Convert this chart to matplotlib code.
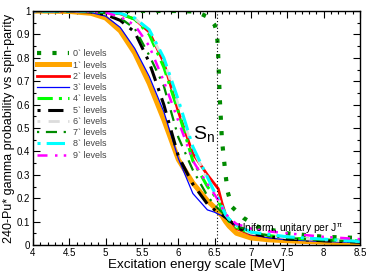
import matplotlib
matplotlib.use("Agg")
import matplotlib.pyplot as plt
from matplotlib.ticker import MultipleLocator, FuncFormatter

plt.rcParams['font.family'] = ['Liberation Sans', 'DejaVu Sans']
plt.rcParams['mathtext.fontset'] = 'custom'
plt.rcParams['mathtext.rm'] = 'Liberation Sans'
plt.rcParams['mathtext.it'] = 'Liberation Sans'

# ---- data ----
x_common = [4.0, 4.5, 4.8, 5.0, 5.2, 5.4, 5.6, 5.8, 6.0, 6.2, 6.4, 6.5, 6.55, 6.6, 6.65,
            6.7, 6.8, 7.0, 7.25, 7.5, 8.0, 8.5]

x_lev0 = [4.0, 5.0, 6.0, 6.2, 6.3, 6.4, 6.45, 6.5, 6.53, 6.545, 6.57, 6.6, 6.63, 6.65,
          6.68, 6.74, 6.9, 7.1, 7.5, 8.0, 8.5]
y_lev0 = [1.0, 1.0, 1.0, 0.998, 0.99, 0.975, 0.96, 0.94, 0.91, 0.84, 0.63, 0.45, 0.36,
          0.30, 0.226, 0.162, 0.115, 0.077, 0.05, 0.035, 0.03]

y_lev1 = [1.0, 0.998, 0.99, 0.97, 0.915, 0.82, 0.69, 0.535, 0.365, 0.265, 0.19, 0.16,
          0.142, 0.125, 0.1, 0.08, 0.05, 0.03, 0.022, 0.018, 0.012, 0.008]
y_lev2 = [1.0, 1.0, 0.999, 0.997, 0.988, 0.965, 0.91, 0.78, 0.57, 0.39, 0.30, 0.26,
          0.24, 0.18, 0.13, 0.11, 0.07, 0.045, 0.035, 0.028, 0.02, 0.015]
y_lev3 = [1.0, 0.998, 0.993, 0.978, 0.93, 0.84, 0.72, 0.57, 0.37, 0.22, 0.15, 0.14,
          0.132, 0.125, 0.115, 0.105, 0.08, 0.045, 0.03, 0.022, 0.015, 0.01]
y_lev4 = [1.0, 1.0, 0.999, 0.997, 0.988, 0.965, 0.90, 0.76, 0.57, 0.36, 0.25, 0.21,
          0.19, 0.15, 0.12, 0.10, 0.075, 0.05, 0.04, 0.03, 0.022, 0.018]
y_lev5 = [1.0, 0.999, 0.996, 0.985, 0.96, 0.91, 0.78, 0.60, 0.38, 0.26, 0.175, 0.15,
          0.14, 0.13, 0.118, 0.105, 0.08, 0.05, 0.035, 0.025, 0.018, 0.012]
y_lev6 = [1.0, 1.0, 0.999, 0.997, 0.989, 0.968, 0.915, 0.79, 0.60, 0.41, 0.28, 0.22,
          0.20, 0.16, 0.13, 0.11, 0.08, 0.05, 0.04, 0.03, 0.022, 0.015]
y_lev7 = [1.0, 0.999, 0.997, 0.99, 0.97, 0.925, 0.81, 0.68, 0.46, 0.32, 0.21, 0.17,
          0.155, 0.14, 0.125, 0.11, 0.085, 0.055, 0.04, 0.03, 0.02, 0.015]
y_lev8 = [1.0, 1.0, 1.0, 0.998, 0.99, 0.97, 0.92, 0.80, 0.62, 0.42, 0.29, 0.225,
          0.20, 0.165, 0.13, 0.11, 0.085, 0.055, 0.045, 0.035, 0.025, 0.015]
y_lev9 = [1.0, 1.0, 0.998, 0.993, 0.975, 0.94, 0.85, 0.70, 0.53, 0.36, 0.26, 0.215,
          0.19, 0.16, 0.135, 0.115, 0.09, 0.07, 0.058, 0.05, 0.035, 0.025]

labels = ["0` levels", "1` levels", "2` levels", "3` levels", "4` levels",
          "5` levels", "6` levels", "7` levels", "8` levels", "9` levels"]

S_n = 6.534

x_ticks = [4, 4.5, 5, 5.5, 6, 6.5, 7, 7.5, 8, 8.5]
y_ticks = [0, 0.1, 0.2, 0.3, 0.4, 0.5, 0.6, 0.7, 0.8, 0.9, 1.0]

# ---- figure ----
fig = plt.figure(figsize=(3.72, 2.73), dpi=100)
ax = fig.add_axes([33/372, 28/273, 327/372, 234/273])

styles = [
    dict(color='#008b00', lw=3.0, ls=(0, (1, 2.7)), dash_capstyle='butt'),
    dict(color='#ffa500', lw=3.6, ls='-'),
    dict(color='#ff0000', lw=2.0, ls='-'),
    dict(color='#0000ff', lw=0.9, ls='-'),
    dict(color='#00ff00', lw=2.2, ls=(0, (5, 2, 1, 2))),
    dict(color='#000000', lw=2.2, ls=(0, (1, 2.5, 5, 2.5))),
    dict(color='#dcdcdc', lw=2.0, ls=(0, (1, 3, 4, 3))),
    dict(color='#008b00', lw=1.6, ls=(0, (1, 3, 5, 3))),
    dict(color='#00ffff', lw=2.2, ls=(0, (1, 2, 6, 2))),
    dict(color='#ff00ff', lw=1.8, ls=(0, (4, 3, 1, 2.5, 1, 3))),
]
series = [y_lev1, y_lev2, y_lev3, y_lev4, y_lev5, y_lev6, y_lev7, y_lev8, y_lev9]

ax.plot(x_lev0, y_lev0, label=labels[0], **styles[0])
for i, ys in enumerate(series):
    ax.plot(x_common, ys, label=labels[i + 1], **styles[i + 1])

ax.axvline(S_n, color='black', lw=0.8, ls=(0, (1, 2)))

ax.text(6.2, 0.455, r'S$_\mathrm{n}$', fontsize=14)
ax.text(6.81, 0.056, r'Uniform, unitary per J$^{\pi}$', fontsize=7.5)

ax.set_xlim(4, 8.5)
ax.set_ylim(0, 1)
ax.set_xticks(x_ticks)
ax.set_yticks(y_ticks)
fmt = FuncFormatter(lambda v, p: '%g' % v)
ax.xaxis.set_major_formatter(fmt)
ax.yaxis.set_major_formatter(fmt)
ax.xaxis.set_minor_locator(MultipleLocator(0.1))
ax.yaxis.set_minor_locator(MultipleLocator(0.05))
ax.tick_params(which='both', direction='in', top=True, right=True, labelsize=7,
               width=0.8, pad=2)
ax.tick_params(which='major', length=5)
ax.tick_params(which='minor', length=2.5)
for s in ax.spines.values():
    s.set_linewidth(1.0)

ax.set_xlabel('Excitation energy scale [MeV]', fontsize=9.6, labelpad=1)
ax.set_ylabel('240-Pu* gamma probability vs spin-parity', fontsize=9.0, labelpad=1)

leg = ax.legend(loc='upper left', bbox_to_anchor=(0.012, 0.836), frameon=False,
                fontsize=6.5, handlelength=3.6, handletextpad=0.4, labelspacing=0.25,
                borderpad=0, borderaxespad=0)
for t in leg.get_texts():
    t.set_color('#444444')

fig.savefig('out.png', dpi=100)
